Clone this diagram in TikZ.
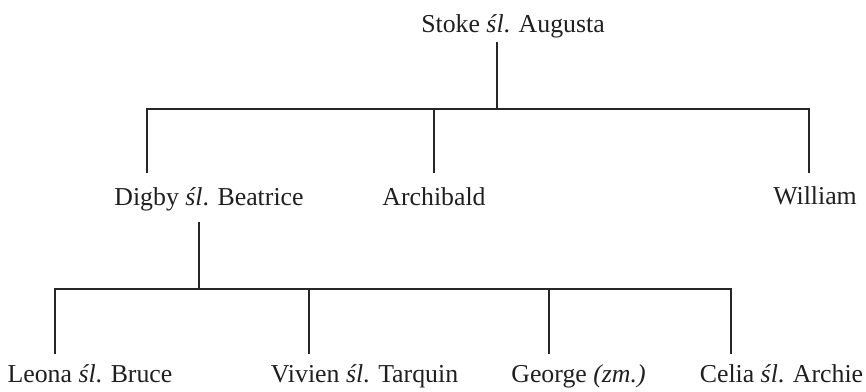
\documentclass[tikz,border=0pt]{standalone}
\usepackage{fontspec}
\setmainfont{Liberation Serif}
\begin{document}
\begin{tikzpicture}[x=1pt,y=-1pt,
  person/.style={anchor=base,inner sep=0pt,outer sep=0pt,font=\fontsize{25.8}{30}\selectfont,text=black!88},
  link/.style={line width=1.9pt,draw=black!85,line cap=rect}]
\useasboundingbox (0,0) rectangle (866,391);
% people
\node[person] (stoke)   at (513,32)  {Stoke \textit{śl}. Augusta};
\node[person] (digby)   at (209,205) {Digby \textit{śl}. Beatrice};
\node[person] (archi)   at (434,205) {Archibald};
\node[person] (william) at (815,204) {William};
\node[person] (leona)   at (90,382)  {Leona \textit{śl}. Bruce};
\node[person] (vivien)  at (364.5,382) {Vivien \textit{śl}. Tarquin};
\node[person] (george)  at (578.5,382) {George \textit{(zm.)}};
\node[person] (celia)   at (781.5,382) {Celia \textit{śl}. Archie};
% junction points, generation 1
\coordinate (s0) at (497,43);
\coordinate (s1) at (497,109);
\coordinate (bl) at (147,109);
\coordinate (br) at (809,109);
\coordinate (am) at (434,109);
\coordinate (dT) at (147,172);
\coordinate (aT) at (434,172);
\coordinate (wT) at (809,172);
% junction points, generation 2
\coordinate (d0) at (199,223);
\coordinate (d1) at (199,289);
\coordinate (cl) at (55,289);
\coordinate (cr) at (731,289);
\coordinate (vm) at (309,289);
\coordinate (gm) at (549,289);
\coordinate (lT) at (55,353);
\coordinate (vT) at (309,353);
\coordinate (gT) at (549,353);
\coordinate (cT) at (731,353);
% connectors
\draw[link] (s0) -- (s1);
\draw[link] (dT) -- (bl) -- (br) -- (wT);
\draw[link] (am) -- (aT);
\draw[link] (d0) -- (d1);
\draw[link] (lT) -- (cl) -- (cr) -- (cT);
\draw[link] (vm) -- (vT);
\draw[link] (gm) -- (gT);
\end{tikzpicture}
\end{document}
